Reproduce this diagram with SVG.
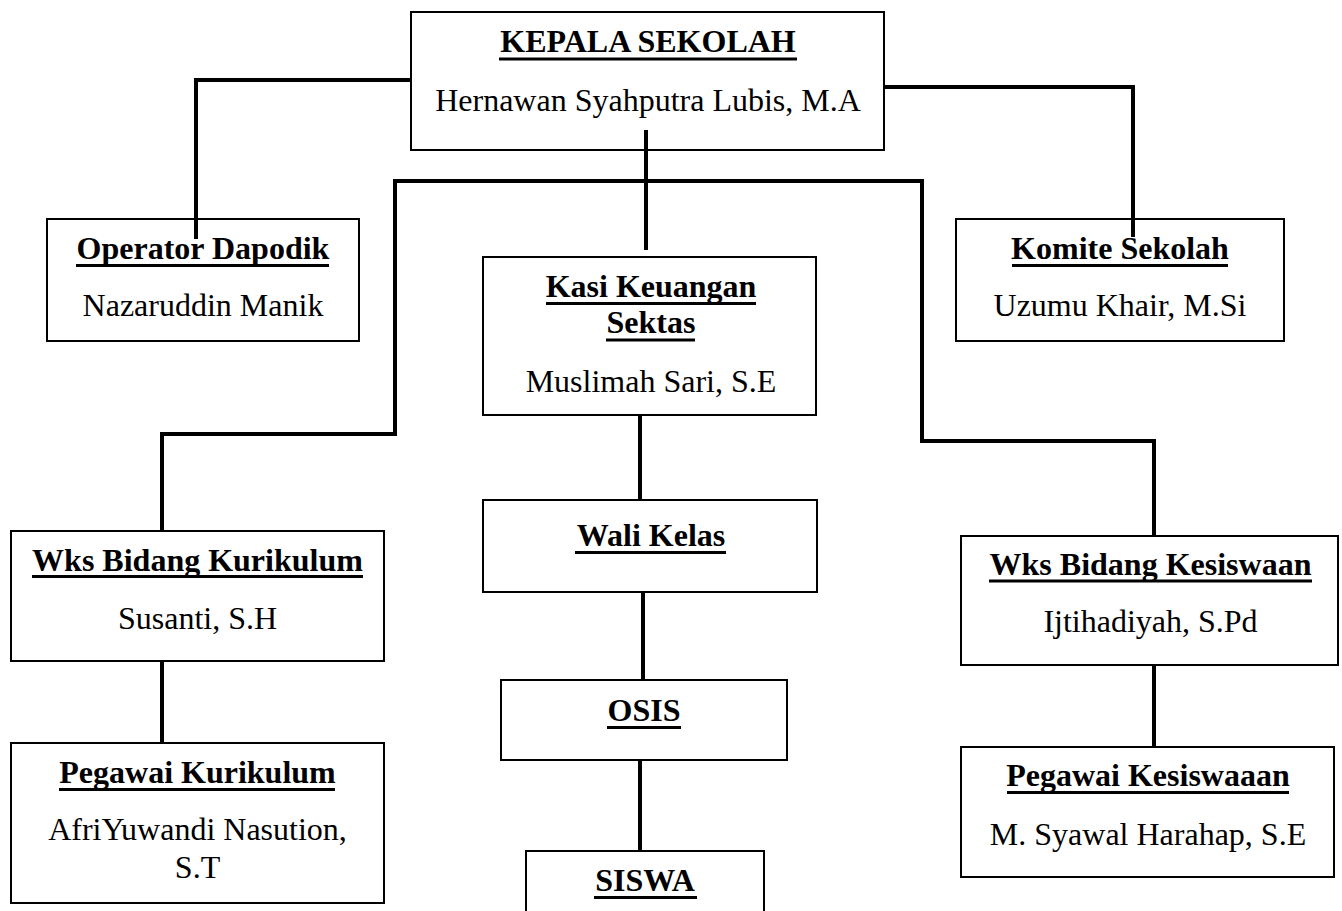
<svg xmlns="http://www.w3.org/2000/svg" width="1342" height="911" viewBox="0 0 1342 911">
<style>
.box{fill:#fff;stroke:#000;stroke-width:2}
.t{font-family:"Liberation Serif","Times New Roman",serif;font-size:32px;fill:#000;text-anchor:middle}
.b{font-weight:bold}
.u{stroke:#000;stroke-width:3}
.c{fill:none;stroke:#000;stroke-width:4;stroke-linejoin:miter}
</style>
<rect width="1342" height="911" fill="#fff"/>
<g id="kepala">
<rect class="box" x="411" y="12" width="473" height="138"/>
<text class="t b" x="648" y="52">KEPALA SEKOLAH</text>
<line class="u" x1="499" y1="59" x2="797" y2="59"/>
<text class="t" x="648" y="111">Hernawan Syahputra Lubis, M.A</text>
</g>
<g id="operator">
<rect class="box" x="47" y="219" width="312" height="122"/>
<text class="t b" x="203" y="259">Operator Dapodik</text>
<line class="u" x1="76" y1="265.5" x2="329" y2="265.5"/>
<text class="t" x="203" y="316">Nazaruddin Manik</text>
</g>
<g id="komite">
<rect class="box" x="956" y="219" width="328" height="122"/>
<text class="t b" x="1120" y="259">Komite Sekolah</text>
<line class="u" x1="1012" y1="265.5" x2="1228" y2="265.5"/>
<text class="t" x="1120" y="316">Uzumu Khair, M.Si</text>
</g>
<g id="kasi">
<rect class="box" x="483" y="257" width="333" height="158"/>
<text class="t b" x="651" y="297">Kasi Keuangan</text>
<line class="u" x1="546" y1="303.5" x2="756" y2="303.5"/>
<text class="t b" x="651" y="333">Sektas</text>
<line class="u" x1="606" y1="340" x2="695" y2="340"/>
<text class="t" x="651" y="392">Muslimah Sari, S.E</text>
</g>
<g id="wali">
<rect class="box" x="483" y="500" width="334" height="92"/>
<text class="t b" x="651" y="546">Wali Kelas</text>
<line class="u" x1="575" y1="552.5" x2="726" y2="552.5"/>
</g>
<g id="osis">
<rect class="box" x="501" y="680" width="286" height="80"/>
<text class="t b" x="644" y="721">OSIS</text>
<line class="u" x1="607" y1="727.5" x2="681" y2="727.5"/>
</g>
<g id="siswa">
<rect class="box" x="526" y="851" width="238" height="80"/>
<text class="t b" x="645" y="891">SISWA</text>
<line class="u" x1="594" y1="897.5" x2="697" y2="897.5"/>
</g>
<g id="wks-kurikulum">
<rect class="box" x="11" y="531" width="373" height="130"/>
<text class="t b" x="197.5" y="571">Wks Bidang Kurikulum</text>
<line class="u" x1="32" y1="576.5" x2="363" y2="576.5"/>
<text class="t" x="197.5" y="629">Susanti, S.H</text>
</g>
<g id="pegawai-kurikulum">
<rect class="box" x="11" y="743" width="373" height="160"/>
<text class="t b" x="197.5" y="783">Pegawai Kurikulum</text>
<line class="u" x1="59" y1="789.5" x2="335" y2="789.5"/>
<text class="t" x="197.5" y="840">AfriYuwandi Nasution,</text>
<text class="t" x="197.5" y="878">S.T</text>
</g>
<g id="wks-kesiswaan">
<rect class="box" x="961" y="536" width="377" height="129"/>
<text class="t b" x="1150.5" y="575">Wks Bidang Kesiswaan</text>
<line class="u" x1="989" y1="581" x2="1312" y2="581"/>
<text class="t" x="1150.5" y="632">Ijtihadiyah, S.Pd</text>
</g>
<g id="pegawai-kesiswaan">
<rect class="box" x="961" y="747" width="373" height="130"/>
<text class="t b" x="1148" y="786">Pegawai Kesiswaaan</text>
<line class="u" x1="1007" y1="792.5" x2="1289" y2="792.5"/>
<text class="t" x="1148" y="845">M. Syawal Harahap, S.E</text>
</g>
<g id="connectors">
<polyline class="c" points="411,80 196,80 196,239"/>
<polyline class="c" points="884,87 1133,87 1133,237"/>
<line class="c" x1="646" y1="130" x2="646" y2="250"/>
<polyline class="c" points="162,531 162,434 395,434 395,181 922,181 922,441 1154,441 1154,536"/>
<line class="c" x1="640" y1="415" x2="640" y2="500"/>
<line class="c" x1="643" y1="592" x2="643" y2="680"/>
<line class="c" x1="640" y1="760" x2="640" y2="851"/>
<line class="c" x1="162" y1="661" x2="162" y2="743"/>
<line class="c" x1="1154" y1="665" x2="1154" y2="747"/>
</g>
</svg>
